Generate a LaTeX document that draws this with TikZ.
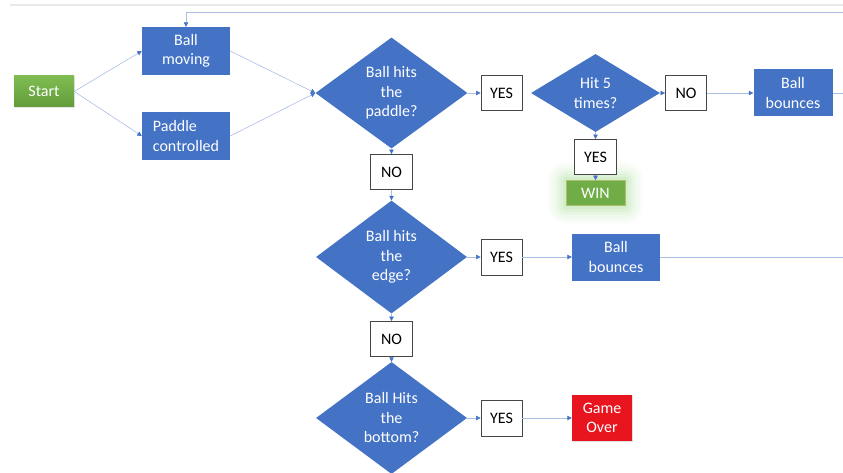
\documentclass[tikz,border=0pt]{standalone}
\usepackage{fontspec}
\setmainfont{Carlito}
\usetikzlibrary{shapes.geometric,arrows.meta,shadows,backgrounds}
\definecolor{oblue}{RGB}{68,114,196}
\definecolor{lblue}{RGB}{170,190,228}
\definecolor{ogreen}{RGB}{112,173,71}
\definecolor{ored}{RGB}{232,20,30}
\definecolor{bord}{RGB}{70,70,70}
\definecolor{glowc}{RGB}{140,210,120}
\definecolor{topline}{RGB}{234,234,234}
\begin{document}
\begin{tikzpicture}[x=1pt,y=-1pt,font=\fontsize{16}{19.5}\selectfont,
  bluebox/.style={fill=oblue,text=white,inner sep=0pt,align=center,minimum width=88pt,minimum height=48pt},
  dec/.style={diamond,fill=oblue,text=white,inner sep=0pt,aspect=1.35,align=center},
  lbl/.style={draw=bord,line width=0.8pt,fill=white,text=black,minimum width=41pt,minimum height=35pt,inner sep=0pt,
              drop shadow={opacity=0.15,shadow xshift=0.8pt,shadow yshift=-0.8pt}},
  conn/.style={draw=lblue,line width=0.6pt,-{Triangle[length=4.5pt,width=4.5pt,color=oblue]}},
  plainline/.style={draw=lblue,line width=0.6pt}]
\useasboundingbox (0,0) rectangle (843,473);

% top lines
\coordinate (g0) at (10,5);
\coordinate (g1) at (843,5);
\draw[topline,line width=2pt] (g0) -- (g1);
\coordinate (t1) at (843,12);

% nodes
\node[text=white,inner sep=0pt,minimum width=60pt,minimum height=31pt,
      top color={rgb,255:red,126;green,188;blue,82},bottom color={rgb,255:red,98;green,156;blue,58},
      drop shadow={opacity=0.2,shadow xshift=1pt,shadow yshift=-1pt}] (start) at (44,91.5) {Start};
\node[bluebox] (bm) at (186,51) {Ball\\moving};
\node[bluebox,align=left] (pc) at (186,136) {Paddle\\controlled};

\node[dec,minimum width=152pt,minimum height=111pt] (d1) at (391.5,93) {Ball hits\\the\\paddle?};
\node[lbl] (yes1) at (501.5,93) {YES};
\node[dec,minimum width=129pt,minimum height=78pt] (d2) at (595.5,93) {Hit 5\\times?};
\node[lbl] (no2) at (686,93) {NO};
\node[bluebox,minimum width=79pt,minimum height=47pt] (bb1) at (793,93) {Ball\\bounces};
\coordinate (e1) at (843,93);

\node[lbl,minimum width=42pt] (yes2) at (595.5,157) {YES};
\node[fill=ogreen,draw={rgb,255:red,170;green,190;blue,110},line width=0.6pt,text=white,inner sep=0pt,
      minimum width=59pt,minimum height=25pt] (win) at (595.5,193) {WIN};

\node[lbl,minimum width=42pt] (no1) at (391.5,172) {NO};
\node[dec,minimum width=151pt,minimum height=113pt] (d3) at (391.5,257) {Ball hits\\the\\edge?};
\node[lbl,minimum height=36pt] (yes3) at (501.5,257) {YES};
\node[bluebox,minimum height=47pt] (bb2) at (616,257) {Ball\\bounces};
\coordinate (e2) at (843,257);

\node[lbl,minimum width=42pt] (no4) at (391.5,339) {NO};
\node[dec,minimum width=151pt,minimum height=112pt] (d4) at (391.5,418) {Ball Hits\\the\\bottom?};
\node[lbl,minimum height=36pt] (yes4) at (501.5,418) {YES};
\node[fill=ored,text=white,inner sep=0pt,minimum width=60pt,minimum height=46pt,align=center,
      drop shadow={opacity=0.25,shadow xshift=1pt,shadow yshift=-1pt}] (go) at (602,418) {Game\\Over};

% glow around WIN
\begin{pgfonlayer}{background}
\foreach \s/\o in {18/0.04,15/0.05,12/0.06,9/0.08,6/0.1,3/0.12}{
  \fill[glowc,opacity=\o,rounded corners=\s pt]
    ([shift={(-\s pt,-\s pt)}]win.south west) rectangle ([shift={(\s pt,\s pt)}]win.north east);
}
\end{pgfonlayer}

% connectors
\draw[conn] (start.east) -- (bm.west);
\draw[conn] (start.east) -- (pc.west);
\draw[conn] (bm.east) -- (d1.west);
\draw[conn] (pc.east) -- (d1.west);
\draw[conn] (d1.east) -- (yes1.west);
\draw[conn] (d2.east) -- (no2.west);
\draw[conn] (no2.east) -- (bb1.west);
\draw[plainline] (bb1.east) -- (e1);
\draw[conn] (d2.south) -- (yes2.north);
\draw[conn] (yes2.south) -- (win.north);
\draw[conn] (d1.south) -- (no1.north);
\draw[conn] (no1.south) -- (d3.north);
\draw[conn] (d3.east) -- (yes3.west);
\draw[conn] (yes3.east) -- (bb2.west);
\draw[plainline] (bb2.east) -- (e2);
\draw[conn] (d3.south) -- (no4.north);
\draw[conn] (no4.south) -- (d4.north);
\draw[conn] (d4.east) -- (yes4.west);
\draw[conn] (yes4.east) -- (go.west);
\draw[conn] (t1) -| (bm.north);
\end{tikzpicture}
\end{document}
